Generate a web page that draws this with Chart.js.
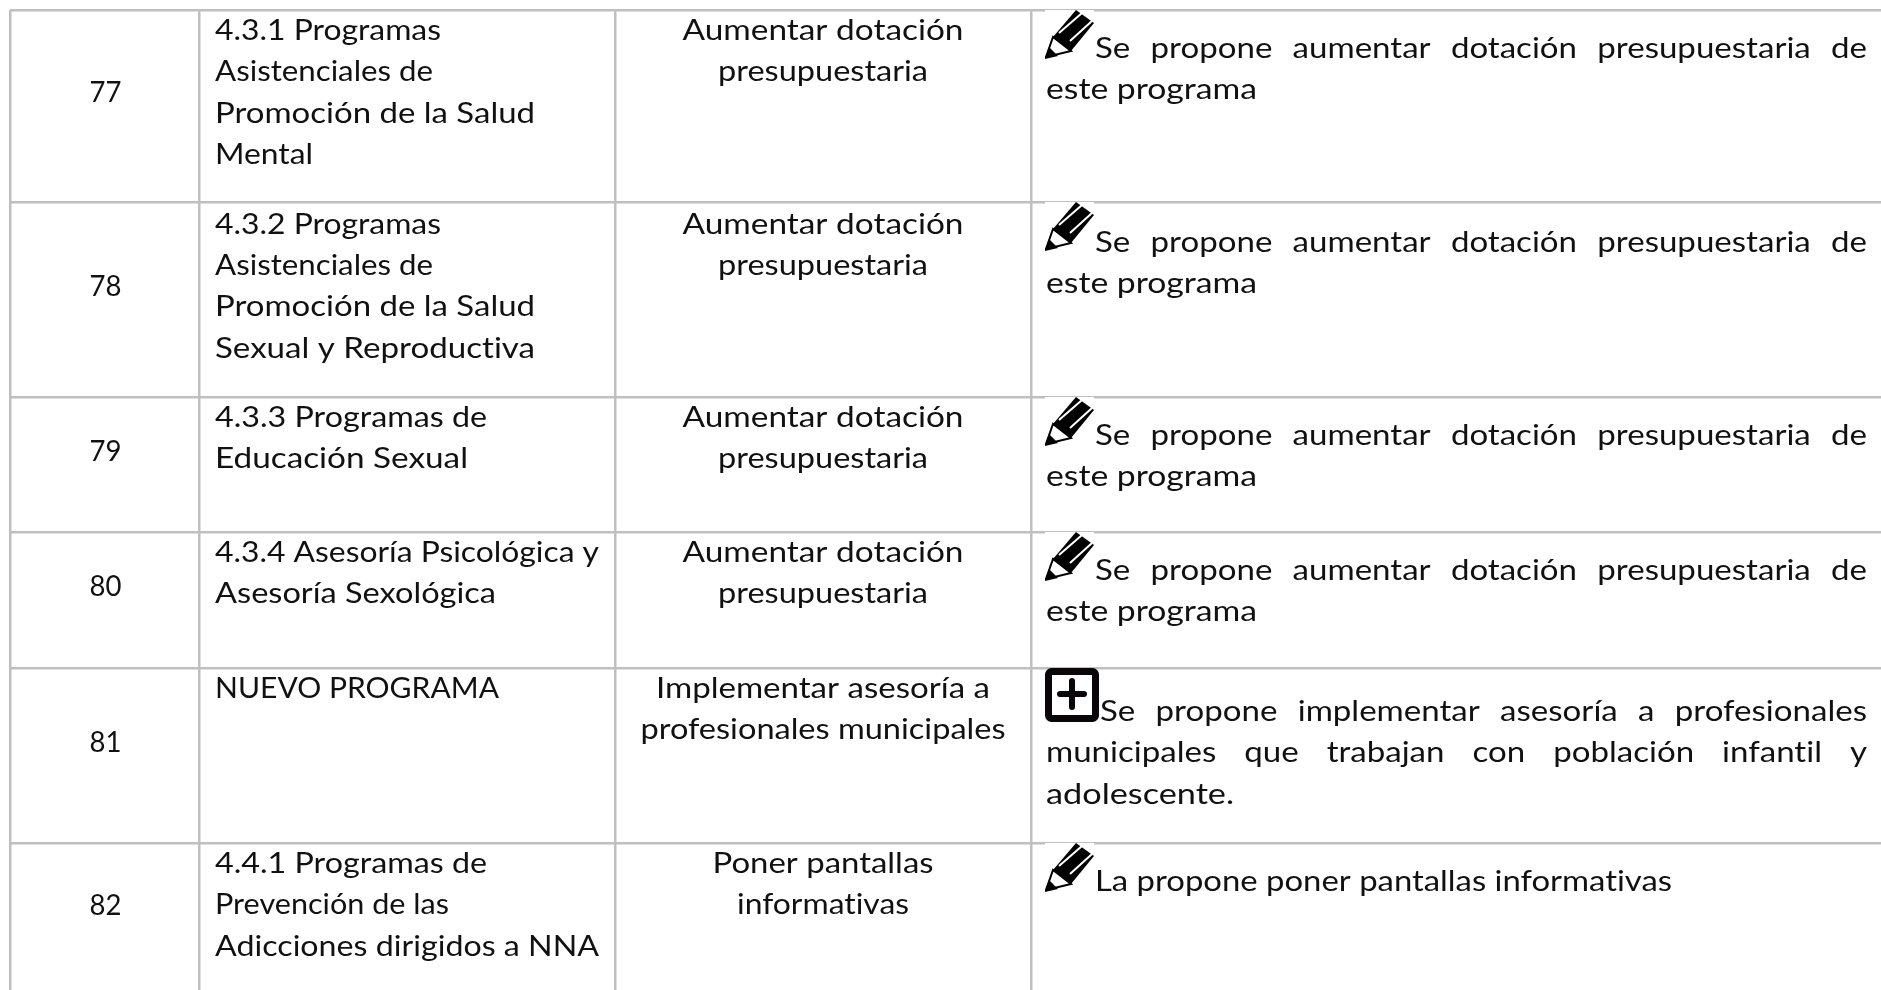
<!DOCTYPE html>
<html>
<head>
<meta charset="utf-8">
<title>Programas</title>
<script src="https://cdn.jsdelivr.net/npm/chart.js@4"></script>
<style>
    html, body { margin: 0; padding: 0; background: #fff; }
    canvas { display: block; }
</style>
</head>
<body>
<canvas id="tabla" width="1881" height="990"></canvas>
<script>
// table content
const rowNumbers = ['77', '78', '79', '80', '81', '82'];
const programs = [
    ['4.3.1 Programas', 'Asistenciales de', 'Promoción de la Salud', 'Mental'],
    ['4.3.2 Programas', 'Asistenciales de', 'Promoción de la Salud', 'Sexual y Reproductiva'],
    ['4.3.3 Programas de', 'Educación Sexual'],
    ['4.3.4 Asesoría Psicológica y', 'Asesoría Sexológica'],
    ['NUEVO PROGRAMA'],
    ['4.4.1 Programas de', 'Prevención de las', 'Adicciones dirigidos a NNA']
];
const actions = [
    ['Aumentar dotación', 'presupuestaria'],
    ['Aumentar dotación', 'presupuestaria'],
    ['Aumentar dotación', 'presupuestaria'],
    ['Aumentar dotación', 'presupuestaria'],
    ['Implementar asesoría a', 'profesionales municipales'],
    ['Poner pantallas', 'informativas']
];
const proposals = [
    ['Se propone aumentar dotación presupuestaria de', 'este programa'],
    ['Se propone aumentar dotación presupuestaria de', 'este programa'],
    ['Se propone aumentar dotación presupuestaria de', 'este programa'],
    ['Se propone aumentar dotación presupuestaria de', 'este programa'],
    ['Se propone implementar asesoría a profesionales', 'municipales que trabajan con población infantil y', 'adolescente.'],
    ['La propone poner pantallas informativas']
];
const proposalIcons = ['pencil', 'pencil', 'pencil', 'pencil', 'plus', 'pencil'];

// layout of the table, in canvas pixels
const columnEdges = [10, 199, 615, 1031];
const rowEdges = [10, 202, 397, 532, 668, 843, 995];
const rowTextShift = [0, 1.5, 0, 0, 0, 0];
const lineHeight = 41.4;
const iconSizes = { pencil: 49, plus: 54 };
const fontCss = '29px Lato';
const textStretch = 1.14;
const numberStretch = 0.95;
const textColor = '#111111';
const proposalLeft = 1046;
const proposalRight = 1867;
// Lato is narrower than the type of the original, so lines are fitted to these widths
const lineWidths = {
    '4.3.1 Programas': 226,
    '4.3.2 Programas': 226,
    'Asistenciales de': 218,
    'Promoción de la Salud': 320,
    'Mental': 98,
    'Sexual y Reproductiva': 320,
    '4.3.3 Programas de': 272,
    'Educación Sexual': 253,
    '4.3.4 Asesoría Psicológica y': 384,
    'Asesoría Sexológica': 281,
    'NUEVO PROGRAMA': 284,
    '4.4.1 Programas de': 272,
    'Prevención de las': 234,
    'Adicciones dirigidos a NNA': 384,
    'Aumentar dotación': 281,
    'presupuestaria': 210,
    'Implementar asesoría a': 334,
    'profesionales municipales': 365,
    'Poner pantallas': 221,
    'informativas': 172,
    'este programa': 211,
    'adolescente.': 188,
    'La propone poner pantallas informativas': 577
};

function pencilIcon() {
    const c = document.createElement('canvas');
    c.width = c.height = iconSizes.pencil;
    const g = c.getContext('2d');
    g.fillStyle = '#fff';
    g.fillRect(0, 0, 49, 49);
    // body
    g.fillStyle = '#000';
    g.beginPath();
    g.moveTo(8, 27); g.lineTo(31, 0); g.lineTo(49, 13); g.lineTo(26, 41);
    g.closePath();
    g.fill();
    // stripes along the body
    g.strokeStyle = '#fff';
    g.lineWidth = 2;
    g.beginPath();
    g.moveTo(14, 23); g.lineTo(37, 3);
    g.moveTo(25, 31); g.lineTo(47, 11);
    g.stroke();
    // wood and tip
    g.strokeStyle = '#000';
    g.lineWidth = 2;
    g.fillStyle = '#fff';
    g.beginPath();
    g.moveTo(8, 27); g.lineTo(1, 47); g.lineTo(26, 41);
    g.closePath();
    g.fill();
    g.stroke();
    g.fillStyle = '#000';
    g.beginPath();
    g.moveTo(0, 49); g.lineTo(4, 37); g.lineTo(13, 46);
    g.closePath();
    g.fill();
    return c;
}

function plusIcon() {
    const s = iconSizes.plus;
    const c = document.createElement('canvas');
    c.width = c.height = s;
    const g = c.getContext('2d');
    g.fillStyle = '#fff';
    g.strokeStyle = '#0a0508';
    g.lineWidth = 7;
    g.beginPath();
    g.roundRect(3.5, 3.5, s - 7, s - 7, 3);
    g.fill();
    g.stroke();
    g.lineWidth = 6;
    g.lineCap = 'round';
    g.beginPath();
    g.moveTo(15, s / 2 - 1); g.lineTo(s - 15, s / 2 - 1);
    g.moveTo(s / 2, 13); g.lineTo(s / 2, s - 15);
    g.stroke();
    return c;
}

const iconImages = { pencil: pencilIcon(), plus: plusIcon() };

function rowMiddle(i) {
    return (rowEdges[i] + rowEdges[i + 1]) / 2;
}

// one invisible point per line of text, the plugin below writes on them
function numberPoints() {
    return rowNumbers.map(function (n, i) {
        return {
            x: (columnEdges[0] + columnEdges[1]) / 2 + 1,
            y: rowMiddle(i) - 4,
            text: n,
            align: 'center',
            stretch: numberStretch
        };
    });
}

function cellPoints(cells, x, align) {
    const points = [];
    cells.forEach(function (lines, i) {
        lines.forEach(function (line, j) {
            points.push({ x: x, y: rowEdges[i] + rowTextShift[i] + 30 + j * lineHeight, text: line, align: align });
        });
    });
    return points;
}

function proposalPoints() {
    const points = [];
    proposals.forEach(function (lines, i) {
        const size = iconSizes[proposalIcons[i]];
        lines.forEach(function (line, j) {
            const last = j === lines.length - 1;
            points.push({
                x: j === 0 ? proposalLeft + size : proposalLeft,
                y: rowEdges[i] + rowTextShift[i] + size - 1 + j * lineHeight,
                text: line,
                align: 'left',
                justify: !last
            });
        });
    });
    return points;
}

function iconPoints() {
    return proposalIcons.map(function (name, i) {
        return { x: proposalLeft - 1 + iconSizes[name] / 2, y: rowEdges[i] + iconSizes[name] / 2 };
    });
}

const textPlugin = {
    id: 'cellText',
    afterDatasetsDraw: function (chart) {
        const ctx = chart.ctx;
        chart.data.datasets.forEach(function (ds, d) {
            if (!ds.isText) return;
            chart.getDatasetMeta(d).data.forEach(function (el, i) {
                const item = ds.data[i];
                ctx.save();
                ctx.font = fontCss;
                ctx.fillStyle = textColor;
                ctx.textBaseline = 'alphabetic';
                ctx.textAlign = item.align;
                ctx.textRendering = 'optimizeSpeed'; // no "ti" ligatures
                const natural = ctx.measureText(item.text).width;
                let stretch = item.stretch || textStretch;
                if (lineWidths[item.text]) stretch = lineWidths[item.text] / natural;
                ctx.translate(el.x, el.y);
                ctx.scale(stretch, 1);
                if (item.justify) {
                    // justified lines end on the right margin of the cell
                    const free = (proposalRight - el.x) / stretch - natural;
                    ctx.wordSpacing = free / (item.text.split(' ').length - 1) + 'px';
                }
                ctx.fillText(item.text, 0, 0);
                ctx.restore();
            });
        });
    }
};

function textDataset(points) {
    return { isText: true, data: points, pointRadius: 0 };
}

new Chart(document.getElementById('tabla'), {
    type: 'scatter',
    plugins: [textPlugin],
    data: {
        datasets: [
            {
                data: iconPoints(),
                pointStyle: proposalIcons.map(function (n) { return iconImages[n]; }),
                clip: false
            },
            textDataset(numberPoints()),
            textDataset(cellPoints(programs, 215, 'left')),
            textDataset(cellPoints(actions, 823, 'center')),
            textDataset(proposalPoints())
        ]
    },
    options: {
        responsive: false,
        animation: false,
        events: [],
        layout: { autoPadding: false, padding: { left: columnEdges[0], top: rowEdges[0] } },
        plugins: { legend: { display: false }, tooltip: { enabled: false }, title: { display: false } },
        scales: {
            x: {
                type: 'linear',
                min: columnEdges[0],
                max: 1881,
                afterBuildTicks: function (axis) {
                    axis.ticks = columnEdges.map(function (v) { return { value: v }; });
                },
                ticks: { display: false },
                border: { display: false },
                grid: { color: '#bfbfbf', lineWidth: 2.5, drawTicks: false }
            },
            y: {
                type: 'linear',
                reverse: true,
                min: rowEdges[0],
                max: 990,
                afterBuildTicks: function (axis) {
                    axis.ticks = rowEdges.filter(function (v) { return v <= 990; }).map(function (v) { return { value: v }; });
                },
                ticks: { display: false },
                border: { display: false },
                grid: { color: '#bfbfbf', lineWidth: 2.5, drawTicks: false }
            }
        }
    }
});
</script>
</body>
</html>
